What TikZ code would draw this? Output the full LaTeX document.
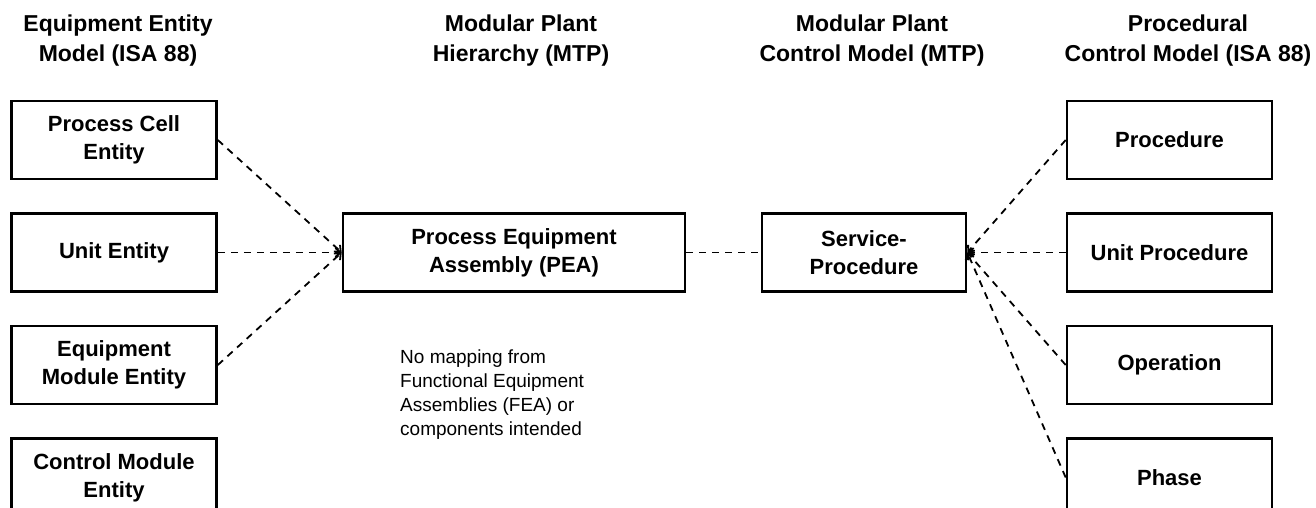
\documentclass[tikz,border=0pt]{standalone}
\usepackage{fontspec}
\setmainfont{Liberation Sans}
\usetikzlibrary{arrows.meta}

\begin{document}
\begin{tikzpicture}[x=1pt, y=-1pt,
		box/.style={draw, line width=2.6pt, minimum height=78pt, inner sep=0pt, align=center, font=\fontsize{22}{28}\selectfont\bfseries},
		head/.style={align=center, font=\fontsize{23}{30}\selectfont\bfseries},
		link/.style={line width=1.8pt, dash pattern=on 7pt off 6pt}]
		\useasboundingbox (0,0) rectangle (1316,507);
		\clip (0,0) rectangle (1316,507);
		
		% column titles
		\node[head] (h1) at (118,41) {Equipment Entity\\Model (ISA 88)};
		\node[head] (h2) at (521,41) {Modular Plant\\Hierarchy (MTP)};
		\node[head] (h3) at (872,41) {Modular Plant\\Control Model (MTP)};
		\node[head] (h4) at (1188,41) {Procedural\\Control Model (ISA 88)};
		
		% equipment entity model
		\node[box, minimum width=205pt] (e1) at (114,140) {Process Cell\\Entity};
		\node[box, minimum width=205pt] (e2) at (114,252.5) {Unit Entity};
		\node[box, minimum width=205pt] (e3) at (114,365) {Equipment\\Module Entity};
		\node[box, minimum width=205pt] (e4) at (114,477.5) {Control Module\\Entity};
		
		% MTP
		\node[box, minimum width=342pt] (pea) at (514,252.5) {Process Equipment\\Assembly (PEA)};
		\node[box, minimum width=204pt] (srv) at (864,252.5) {Service-\\Procedure};
		
		% procedural control model
		\node[box, minimum width=205pt] (c1) at (1169.5,140) {Procedure};
		\node[box, minimum width=205pt] (c2) at (1169.5,252.5) {Unit Procedure};
		\node[box, minimum width=205pt] (c3) at (1169.5,365) {Operation};
		\node[box, minimum width=205pt] (c4) at (1169.5,477.5) {Phase};
		
		\node[anchor=north west, inner sep=0pt, align=left, font=\fontsize{19}{24}\selectfont] (note) at (400,350) {No mapping from\\Functional Equipment\\Assemblies (FEA) or\\components intended};
		
		\draw[link, -{Straight Barb[length=5pt, width=9pt]}] (e1.east) -- (pea.west);
		\draw[link, -{Straight Barb[length=5pt, width=9pt]}] (e2.east) -- (pea.west);
		\draw[link, -{Straight Barb[length=5pt, width=9pt]}] (e3.east) -- (pea.west);
		\draw[link] (pea.east) -- (srv.west);
		\draw[link, -{Straight Barb[length=5pt, width=9pt]}] (c1.west) -- (srv.east);
		\draw[link, -{Straight Barb[length=5pt, width=9pt]}] (c2.west) -- (srv.east);
		\draw[link, -{Straight Barb[length=5pt, width=9pt]}] (c3.west) -- (srv.east);
		\draw[link, -{Straight Barb[length=5pt, width=9pt]}] (c4.west) -- (srv.east);
\end{tikzpicture}
\end{document}
